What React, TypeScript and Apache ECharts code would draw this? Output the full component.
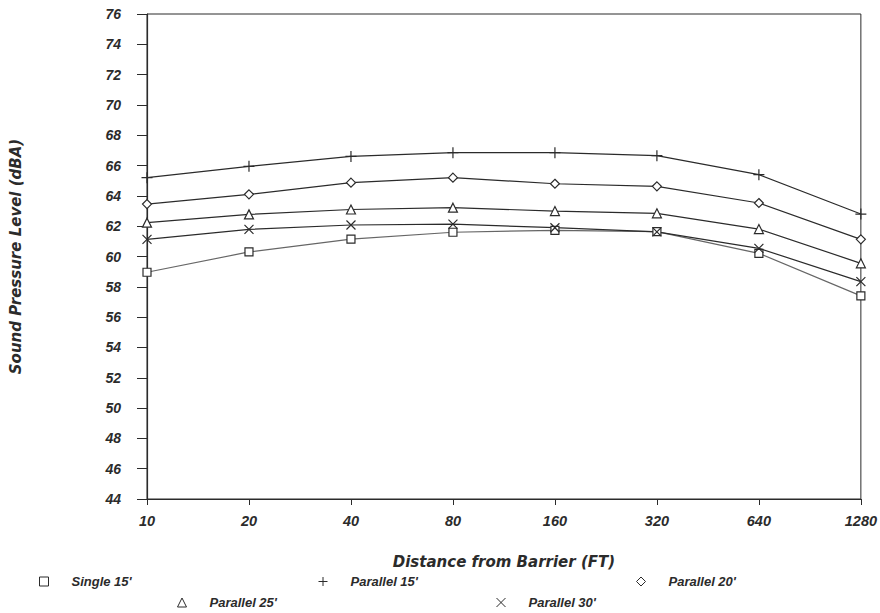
import React, { useEffect, useRef } from "react";
import * as echarts from "echarts";

const distances = ["10", "20", "40", "80", "160", "320", "640", "1280"];
const single15 = [58.96, 60.3, 61.15, 61.6, 61.73, 61.64, 60.21, 57.4];
const parallel15 = [65.2, 65.95, 66.6, 66.85, 66.85, 66.65, 65.4, 62.8];
const parallel20 = [63.46, 64.1, 64.87, 65.2, 64.8, 64.63, 63.53, 61.13];
const parallel25 = [62.23, 62.78, 63.1, 63.22, 63.0, 62.85, 61.81, 59.55];
const parallel30 = [61.13, 61.79, 62.08, 62.14, 61.9, 61.62, 60.54, 58.34];

const plusPath = "path://M5,0L5,10M0,5L10,5";
const crossPath = "path://M0,0L10,10M10,0L0,10";
const ink = "#2b2b2b";
const font = "Liberation Sans";
const titleFont = "DejaVu Sans";

export default function App() {
  const ref = useRef<HTMLDivElement>(null);
  useEffect(() => {
    if (!ref.current) return;
    const chart = echarts.init(ref.current, undefined, { renderer: "svg" });
    const textBase = {
      color: ink,
      fontFamily: font,
      fontStyle: "italic" as const,
      fontWeight: "bold" as const,
      fontSize: 13,
    };
    const titleText = { ...textBase, fontFamily: titleFont, fontSize: 15 };
    const mkSeries = (name: string, data: number[], symbol: string, size: number, color: string) => ({
      name,
      type: "line",
      data,
      symbol,
      symbolSize: size,
      showSymbol: true,
      lineStyle: { color, width: 1.2 },
      itemStyle: { color: "#fff", borderColor: ink, borderWidth: 1.2 },
      emphasis: { disabled: true },
    });
    const mkLegend = (name: string, left: number, top: number, icon: string) => ({
      data: [{ name, icon }],
      left,
      top,
      itemWidth: 9,
      itemHeight: 9,
      padding: 0,
      selectedMode: false,
      itemStyle: { color: "#fff", borderColor: ink, borderWidth: 1 },
      lineStyle: { opacity: 0 },
      textStyle: { ...textBase, fontSize: 13, padding: [0, 0, 0, 18] },
    });
    chart.setOption({
      animation: false,
      backgroundColor: "#fff",
      grid: {
        left: 144,
        right: 18,
        top: 14,
        bottom: 114,
        show: true,
        borderColor: ink,
        borderWidth: 1,
      },
      xAxis: {
        type: "category",
        data: distances,
        boundaryGap: false,
        name: "Distance from Barrier (FT)",
        nameLocation: "middle",
        nameGap: 55,
        nameTextStyle: titleText,
        axisLine: { lineStyle: { color: ink, width: 1.2 } },
        axisTick: { show: true, inside: false, length: 6, lineStyle: { color: ink } },
        axisLabel: { ...textBase, fontSize: 14.5, margin: 14 },
        splitLine: { show: false },
      },
      yAxis: {
        type: "value",
        min: 44,
        max: 76,
        interval: 2,
        name: "Sound Pressure Level (dBA)",
        nameLocation: "middle",
        nameGap: 124,
        nameTextStyle: titleText,
        axisLine: { show: true, lineStyle: { color: ink, width: 1.2 } },
        axisTick: { show: true, length: 10, lineStyle: { color: ink } },
        axisLabel: { ...textBase, fontSize: 14, margin: 26 },
        splitLine: { show: false },
      },
      legend: [
        mkLegend("Single 15'", 39, 575, "rect"),
        mkLegend("Parallel 15'", 318, 575, plusPath),
        mkLegend("Parallel 20'", 636, 575, "diamond"),
        mkLegend("Parallel 25'", 177, 596, "triangle"),
        mkLegend("Parallel 30'", 496, 596, crossPath),
      ],
      series: [
        mkSeries("Single 15'", single15, "rect", 8, "#666"),
        mkSeries("Parallel 15'", parallel15, plusPath, 11, ink),
        mkSeries("Parallel 20'", parallel20, "diamond", 9, ink),
        mkSeries("Parallel 25'", parallel25, "triangle", 9, ink),
        mkSeries("Parallel 30'", parallel30, crossPath, 9, ink),
      ],
    });
    return () => chart.dispose();
  }, []);
  return <div ref={ref} style={{ width: 880, height: 613, position: "absolute", left: 0, top: 0 }} />;
}
